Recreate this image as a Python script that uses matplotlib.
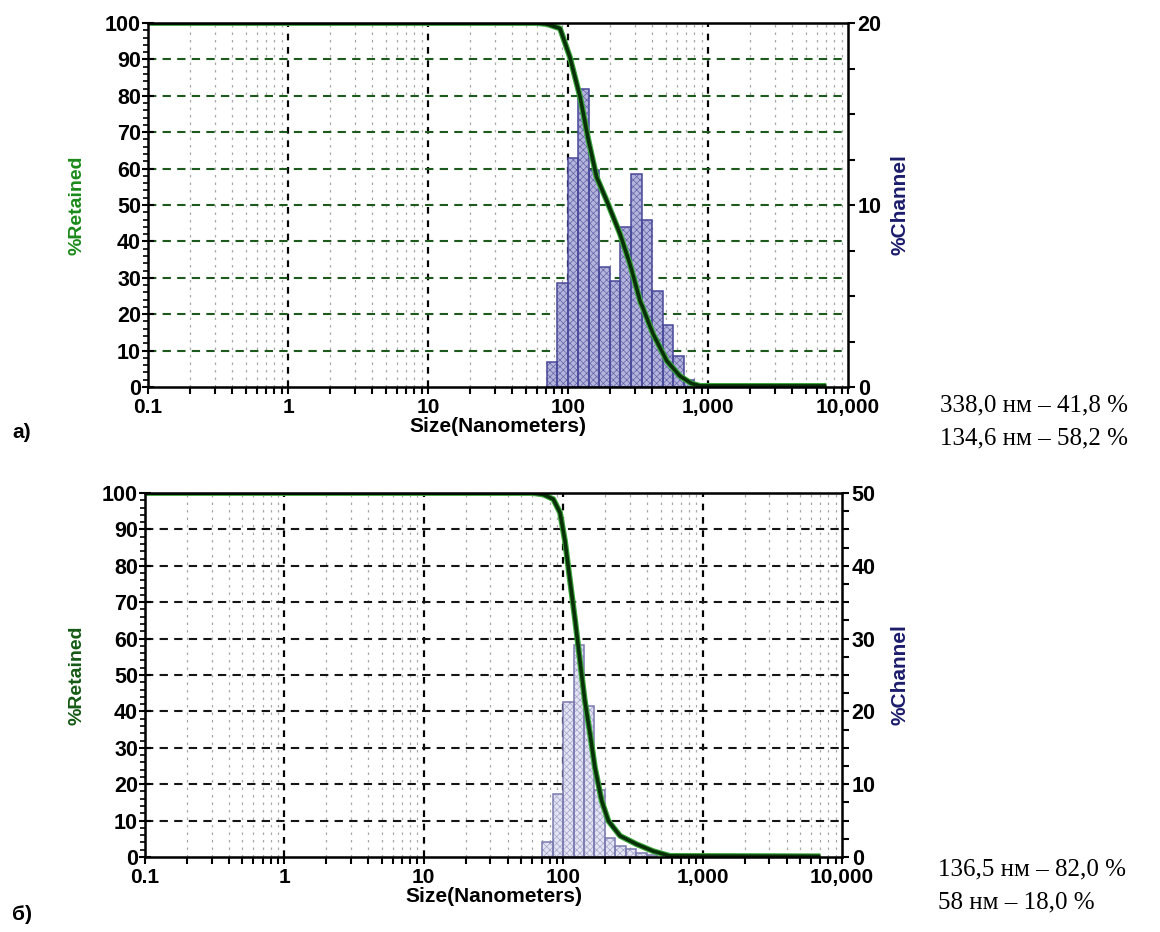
import matplotlib
matplotlib.use("Agg")
import matplotlib.pyplot as plt
from matplotlib.ticker import FixedLocator, MultipleLocator, LogLocator, NullFormatter, FuncFormatter

plt.rcParams['font.family'] = ['Liberation Sans', 'DejaVu Sans']
plt.rcParams['font.weight'] = 'bold'
plt.rcParams['axes.labelweight'] = 'bold'
plt.rcParams['hatch.linewidth'] = 0.5

# channel edges in nm (same channel set for both samples)
edges = [70.5, 83.8, 99.7, 118.6, 141, 167.7, 199.4, 237, 282, 335, 399, 474, 564, 670, 797]

x_ticks = [0.1, 1, 10, 100, 1000, 10000]
x_labels = ['0.1', '1', '10', '100', '1,000', '10,000']

# sample a)
chan_a = [1.4, 5.7, 12.6, 16.4, 11.9, 6.6, 5.8, 8.8, 11.7, 9.2, 5.3, 3.4, 1.7, 0.4]
size_a = [0.1, 60, 70.8, 87.7, 103, 122, 140, 160, 189, 235, 277, 327, 405, 507, 631, 760, 877, 7000]
ret_a = [100, 100, 99.7, 98.5, 90.7, 79.7, 67.8, 57.7, 51.2, 42.1, 33.8, 23.7, 14.6, 7.2, 3.0, 1.0, 0.3, 0.3]
notes_a = ["338,0 нм – 41,8 %", "134,6 нм – 58,2 %"]

# sample б)
chan_b = [2.1, 8.7, 21.3, 29.1, 20.8, 9.2, 2.6, 1.5, 1.1, 0.6, 0.3]
size_b = [0.1, 60, 72, 84.9, 94.9, 103, 112, 122, 132, 143, 156, 169, 189, 211, 256, 337, 443, 583, 7000]
ret_b = [100, 100, 99.6, 98.3, 94.6, 86.8, 75.8, 64.8, 53.8, 42.9, 33.7, 24.5, 15.4, 9.9, 5.8, 3.5, 1.6, 0.3, 0.2]
notes_b = ["136,5 нм – 82,0 %", "58 нм – 18,0 %"]

W, H = 1160, 932
fig = plt.figure(figsize=(W / 100, H / 100), dpi=100)


def panel(px, chan, size, ret, chan_max, face, hatch_col, edge_col, hcol, ret_col,
          ylab_x, xlab_y):
    left, top, width, height = px
    ax = fig.add_axes([left / W, 1 - (top + height) / H, width / W, height / H])
    ax2 = ax.twinx()
    ax.set_zorder(ax2.get_zorder() + 1)
    ax.patch.set_visible(False)

    ax.set_xscale('log')
    ax.set_xlim(0.1, 10000)
    ax.set_ylim(0, 100)
    ax2.set_ylim(0, chan_max)

    # grid on the channel axis so that the bars cover it
    for d in [1, 10, 100, 1000]:
        ax2.axvline(d, color='black', lw=1.6, ls=(0, (3, 3)), zorder=0)
    for d in [0.1, 1, 10, 100, 1000]:
        for m in range(2, 10):
            ax2.axvline(d * m, color='#a8a8a8', lw=0.9, ls=(0, (2, 4)), zorder=0)
    for k in range(1, 10):
        ax2.axhline(chan_max * k / 10, color=hcol, lw=1.5, ls=(0, (4, 3)), zorder=0)

    n = len(chan)
    widths = [edges[i + 1] - edges[i] for i in range(n)]
    ax2.bar(edges[:n], chan, width=widths, align='edge', color=face,
            hatch='xxxxx', edgecolor=hatch_col, lw=0, zorder=1)
    ax2.bar(edges[:n], chan, width=widths, align='edge', fill=False,
            edgecolor=edge_col, lw=1.1, zorder=2)

    ax.plot(size, ret, color='#3aa83a', lw=4.2, solid_capstyle='butt')
    ax.plot(size, ret, color='#0a300a', lw=2.6, solid_capstyle='butt')

    ax.xaxis.set_major_locator(FixedLocator(x_ticks))
    ax.set_xticklabels(x_labels)
    ax.xaxis.set_minor_locator(LogLocator(base=10, subs=range(2, 10), numticks=20))
    ax.xaxis.set_minor_formatter(NullFormatter())
    ax.tick_params(axis='x', which='both', direction='out', length=5, width=1.5,
                   labelsize=15, pad=3)
    ax.yaxis.set_major_locator(MultipleLocator(10))
    ax.yaxis.set_minor_locator(MultipleLocator(2))
    ax.tick_params(axis='y', which='major', direction='inout', length=8, width=1.5,
                   labelsize=15.5, pad=1)
    ax.tick_params(axis='y', which='minor', direction='out', length=3.5, width=1.2)

    ax2.yaxis.set_major_locator(MultipleLocator(2.5))
    ax2.yaxis.set_major_formatter(FuncFormatter(lambda v, p: f"{v:.0f}" if v % 10 == 0 else ""))
    ax2.tick_params(axis='y', direction='out', length=5, width=1.5, labelsize=15.5, pad=2)

    for sp in ax.spines.values():
        sp.set_linewidth(1.8)

    ax.set_ylabel('%Retained', color=ret_col, fontsize=14, va='center')
    ax.yaxis.set_label_coords((ylab_x - left) / width, 0.5)
    ax2.set_ylabel('%Channel', color='#1c1c6c', fontsize=15, va='center')
    ax2.yaxis.set_label_coords((900 - left) / width, 0.5)
    ax.set_xlabel('Size(Nanometers)', fontsize=15, va='center')
    ax.xaxis.set_label_coords(0.5, -(xlab_y - top - height) / height)
    return ax


panel((148, 23, 700, 364), chan_a, size_a, ret_a, 20,
      '#b4b4dc', '#6464a8', '#48489a', '#1e5a1e', '#1a8a1a', 77, 426)
panel((145, 493, 697, 364), chan_b, size_b, ret_b, 50,
      '#e4e4f3', '#a4a4cc', '#7a7ab0', '#151515', '#145a14', 77, 897)

fig.text(12 / W, 1 - 433 / H, 'а)', fontsize=15, ha='left', va='center')
fig.text(12 / W, 1 - 915 / H, 'б)', fontsize=15, ha='left', va='center')

for i, t in enumerate(notes_a):
    fig.text(940 / W, 1 - (405 + 33 * i) / H, t, fontsize=18, family='Liberation Serif',
             fontweight='normal', ha='left', va='center')
for i, t in enumerate(notes_b):
    fig.text(938 / W, 1 - (869 + 33 * i) / H, t, fontsize=18, family='Liberation Serif',
             fontweight='normal', ha='left', va='center')

fig.savefig('out.png', dpi=100)
